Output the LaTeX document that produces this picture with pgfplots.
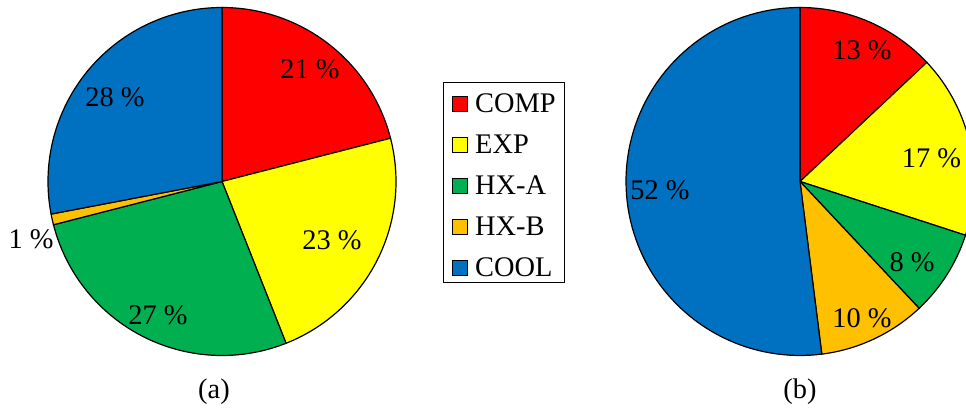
\documentclass[border=0pt]{standalone}
\usepackage{fontspec}
\setmainfont{Liberation Serif}
\usepackage{pgfplots}
\pgfplotsset{compat=1.18}
\definecolor{cComp}{HTML}{FF0000}
\definecolor{cExp}{HTML}{FFFF00}
\definecolor{cHxa}{HTML}{00B050}
\definecolor{cHxb}{HTML}{FFC000}
\definecolor{cCool}{HTML}{0070C0}
% slice: center x, cumulative start (%), share (%), colour
\newcommand{\slice}[4]{%
  \addplot[draw=black, line width=1.2bp, fill=#4, domain=90-3.6*(#2+#3):90-3.6*#2,
    samples=90, variable=\t, forget plot]
    ({#1+174*cos(\t)}, {227.5+174*sin(\t)}) -- (#1,227.5) -- cycle;}
\newcommand{\lentry}[1]{\makebox[80bp][l]{#1}}
\begin{document}
\begin{tikzpicture}
\begin{axis}[
  scale only axis, width=966bp, height=409bp,
  xmin=0, xmax=966, ymin=0, ymax=409,
  hide axis, clip=true,
  legend image code/.code={\draw[#1, draw=black, line width=0.8bp] (0bp,1bp) rectangle (15bp,16bp);},
  legend style={at={(axis cs:443,327)}, anchor=north west, draw=black, line width=0.8bp,
    font=\fontsize{28.5}{34}\selectfont, inner xsep=9bp, inner ysep=4bp,
    column sep=7bp, row sep=13bp,
    nodes={inner sep=0pt, text height=26bp, text depth=2bp, anchor=base west}},
  legend cell align=left,
]
% pie (a)
\slice{222}{0}{21}{cComp}
\slice{222}{21}{23}{cExp}
\slice{222}{44}{27}{cHxa}
\slice{222}{71}{1}{cHxb}
\slice{222}{72}{28}{cCool}
% pie (b)
\slice{800}{0}{13}{cComp}
\slice{800}{13}{17}{cExp}
\slice{800}{30}{8}{cHxa}
\slice{800}{38}{10}{cHxb}
\slice{800}{48}{52}{cCool}
\addlegendimage{fill=cComp}\addlegendentry{\lentry{COMP}}
\addlegendimage{fill=cExp}\addlegendentry{\lentry{EXP}}
\addlegendimage{fill=cHxa}\addlegendentry{\lentry{HX-A}}
\addlegendimage{fill=cHxb}\addlegendentry{\lentry{HX-B}}
\addlegendimage{fill=cCool}\addlegendentry{\lentry{COOL}}
\begin{scope}[every node/.style={font=\fontsize{28.5}{34}\selectfont, anchor=base, inner sep=0pt}]
\node at (axis cs:310,330) {21 \%};
\node at (axis cs:332,159) {23 \%};
\node at (axis cs:158,84) {27 \%};
\node at (axis cs:31,160) {1 \%};
\node at (axis cs:115,302) {28 \%};
\node at (axis cs:862,349) {13 \%};
\node at (axis cs:931.5,241) {17 \%};
\node at (axis cs:912,137) {8 \%};
\node at (axis cs:862,81) {10 \%};
\node at (axis cs:660,209) {52 \%};
\node at (axis cs:214,11) {(a)};
\node at (axis cs:800,11) {(b)};
\end{scope}
\end{axis}
\pgfresetboundingbox
\useasboundingbox (0,0) rectangle (966bp,409bp);
\end{tikzpicture}
\end{document}
